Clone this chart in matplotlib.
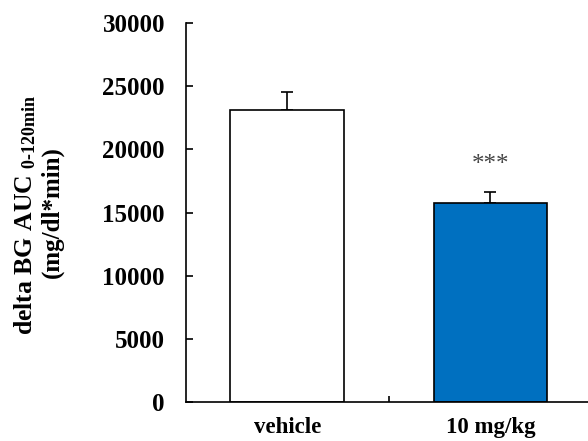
import numpy as np
import matplotlib
matplotlib.use("Agg")
import matplotlib.pyplot as plt

groups = ["vehicle", "10 mg/kg"]
means = [23100, 15750]
errors = [1440, 870]
colors = ["white", "#0070c0"]
sig = ["", "***"]

plt.rcParams["font.family"] = "Liberation Serif"
plt.rcParams["font.weight"] = "bold"
plt.rcParams["mathtext.fontset"] = "custom"
plt.rcParams["mathtext.rm"] = "Liberation Serif:bold"
plt.rcParams["mathtext.it"] = "Liberation Serif:bold"
plt.rcParams["mathtext.bf"] = "Liberation Serif:bold"

fig = plt.figure(figsize=(5.88, 4.41), dpi=100)
ax = fig.add_axes([0.316, 0.088, 0.684, 0.860])

x = np.arange(len(groups))
ax.bar(x, means, width=0.56, color=colors, edgecolor="black", linewidth=1.2, zorder=2)
ax.errorbar(x, means, yerr=[np.zeros(len(errors)), errors], fmt="none",
            ecolor="black", elinewidth=1.2, capsize=4, capthick=1.2, zorder=1)

# significance stars above the treated group
for i, s in enumerate(sig):
    if s:
        ax.text(x[i], means[i] + errors[i] + 2150, s, ha="center", va="center",
                fontsize=18, fontweight="normal", color="#444444")

ax.set_xlim(-0.5, 1.48)
ax.set_ylim(0, 30000)
ax.set_yticks(range(0, 30001, 5000))
ax.tick_params(axis="y", direction="in", length=5, width=1.2, labelsize=18, pad=15)
ax.set_xticks([0.5])
ax.set_xticklabels([""])
ax.tick_params(axis="x", direction="in", length=4, width=1.2)
for i, g in enumerate(groups):
    ax.text(x[i], -2000, g, ha="center", va="center", fontsize=16.5, fontweight="bold")

for side in ["top", "right"]:
    ax.spines[side].set_visible(False)
for side in ["left", "bottom"]:
    ax.spines[side].set_linewidth(1.2)

fig.text(0.043, 0.513, "delta BG AUC $_{\\mathrm{0\\text{-}120min}}$", rotation=90,
         ha="center", va="center", fontsize=18.5, fontweight="bold")
fig.text(0.089, 0.52, "(mg/dl*min)", rotation=90,
         ha="center", va="center", fontsize=18, fontweight="bold")

fig.savefig("out.png", dpi=100)
